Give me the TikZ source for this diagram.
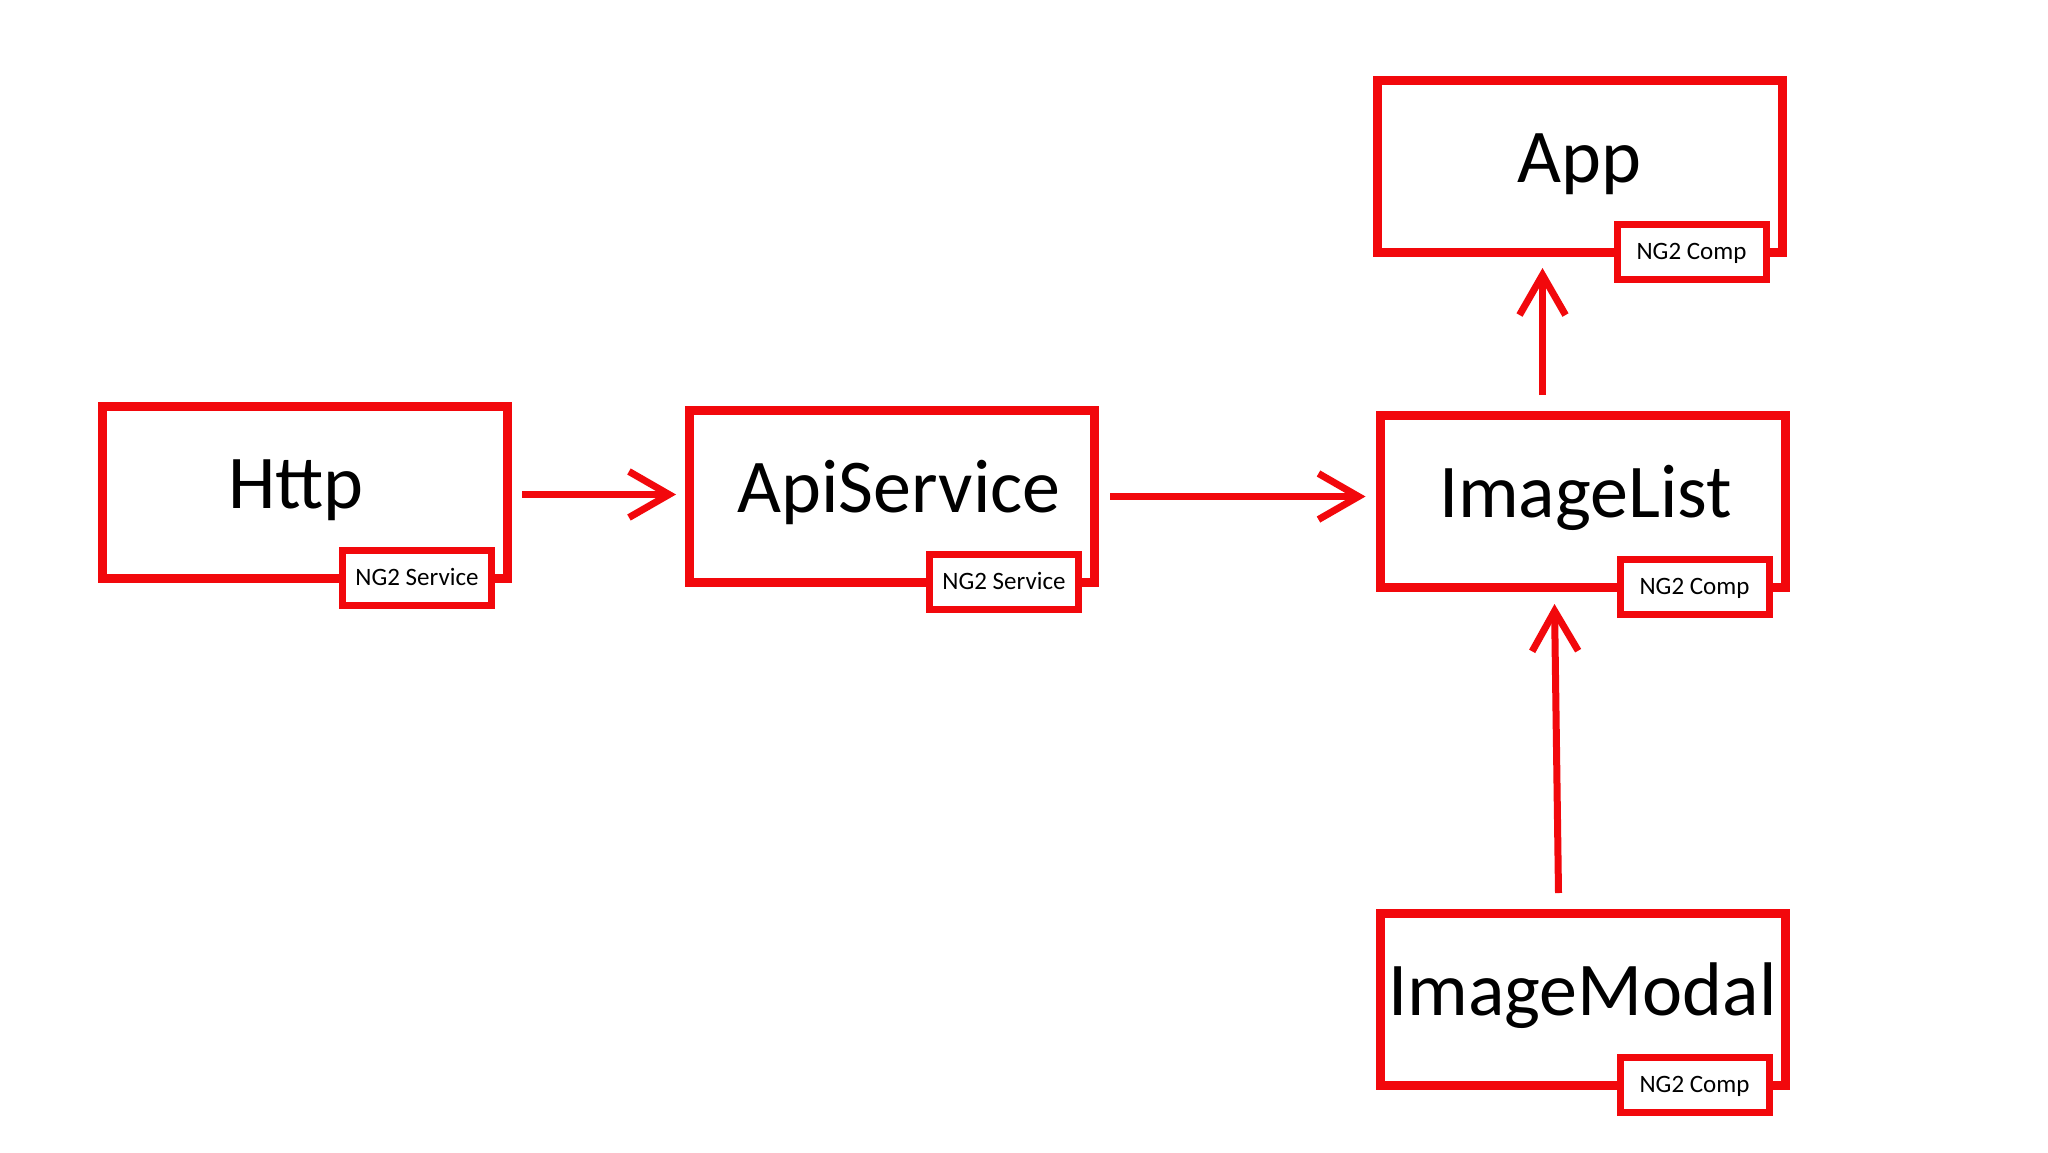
\documentclass[tikz,border=0pt]{standalone}
\usepackage{fontspec}
\setmainfont{Carlito}
\usetikzlibrary{arrows.meta}
\definecolor{ngred}{RGB}{242,8,12}
\tikzset{
  mainbox/.style={draw=ngred, line width=9pt, fill=white, rectangle, inner sep=0pt,
    minimum width=405pt, minimum height=172pt, text height=102pt, text depth=70pt,
    font=\fontsize{76pt}{80pt}\selectfont},
  tagbox/.style={draw=ngred, line width=7pt, fill=white, rectangle, inner sep=0pt,
    minimum width=149pt, minimum height=55pt, text height=35pt, text depth=20pt,
    font=\fontsize{25pt}{28pt}\selectfont, anchor=north east},
  arr/.style={draw=ngred, line width=7pt, -{Straight Barb[length=40pt,width=46pt]}}
}
\begin{document}
\begin{tikzpicture}[x=1pt,y=-1pt]
\useasboundingbox[fill=white] (0,0) rectangle (2048,1152);
\node[mainbox] (http) at (305,492.5) {Http\hspace*{18pt}};
\node[mainbox] (api) at (892,496.5) {\hspace*{14pt}ApiService};
\node[mainbox] (il) at (1582.5,501.5) {\hspace*{6pt}ImageList};
\node[mainbox] (app) at (1579.5,166.5) {App};
\node[mainbox] (im) at (1582.5,999.5) {ImageModal};
\node[tagbox] (httptag) at ([xshift=-17pt,yshift=36pt]http.south east) {NG2 Service};
\node[tagbox] (apitag) at ([xshift=-17pt,yshift=36pt]api.south east) {NG2 Service};
\node[tagbox] (iltag) at ([xshift=-17pt,yshift=36pt]il.south east) {NG2 Comp};
\node[tagbox] (apptag) at ([xshift=-17pt,yshift=36pt]app.south east) {NG2 Comp};
\node[tagbox] (imtag) at ([xshift=-17pt,yshift=36pt]im.south east) {NG2 Comp};
\draw[arr] ([xshift=10pt,yshift=-2pt]http.east) -- ([xshift=-9pt,yshift=2pt]api.west);
\draw[arr] ([xshift=11pt]api.east) -- ([xshift=-10pt]il.west |- api.east);
\draw[arr] ([xshift=-40pt,yshift=16pt]il.north) -- ([xshift=-40pt,yshift=-11pt]il.north |- app.south);
\draw[arr] ([xshift=-24pt,yshift=16pt]im.north) -- ([xshift=-28pt,yshift=-12pt]il.south);
\end{tikzpicture}
\end{document}
